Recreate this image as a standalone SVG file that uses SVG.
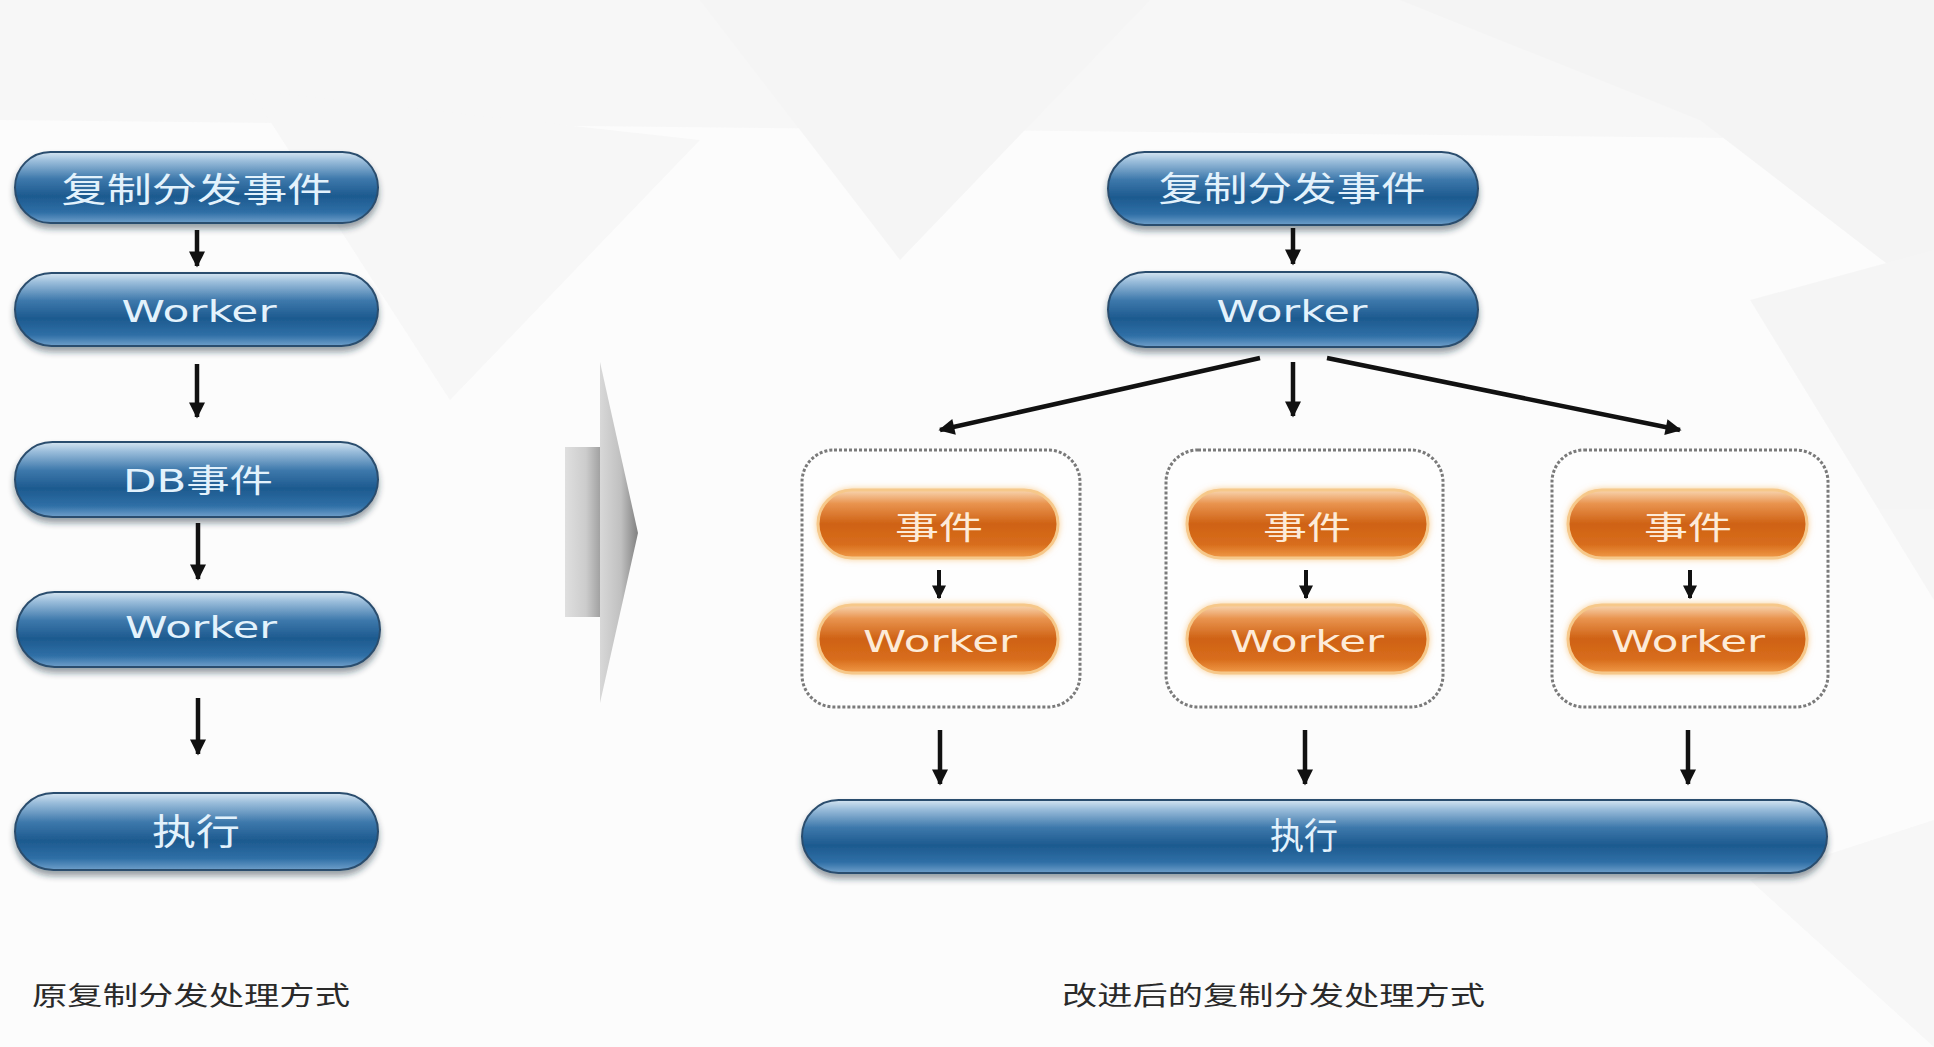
<svg xmlns="http://www.w3.org/2000/svg" width="1934" height="1047" viewBox="0 0 1934 1047">
<style>
.bt{font-family:"DejaVu Sans","Noto Sans CJK SC",sans-serif;fill:#e3f2fc;}
.ot{font-family:"DejaVu Sans","Noto Sans CJK SC",sans-serif;fill:#fdebd8;}
.cap{font-family:"Noto Sans CJK SC",sans-serif;fill:#2a2a2a;font-size:26px;}
.blue{fill:url(#gBlue);stroke:#2c4e6e;stroke-width:2;filter:url(#sh);}
.orng{fill:url(#gOr);stroke:#f6c88a;stroke-width:3;filter:url(#shO);}
.box{fill:#ffffff;fill-opacity:0.55;stroke:#7a7a7a;stroke-width:3;stroke-dasharray:3 2;}
.ar{stroke:#111;stroke-width:4.5;fill:none;marker-end:url(#ah);}
.ars{stroke:#111;stroke-width:4;fill:none;marker-end:url(#ahs);}
</style>
<defs>
<linearGradient id="gBlue" x1="0" y1="0" x2="0" y2="1">
<stop offset="0" stop-color="#d6e6f2"/>
<stop offset="0.12" stop-color="#9dbfdc"/>
<stop offset="0.38" stop-color="#3d78ab"/>
<stop offset="0.62" stop-color="#1d5a8f"/>
<stop offset="0.85" stop-color="#2f6fa6"/>
<stop offset="1" stop-color="#6f9fca"/>
</linearGradient>
<linearGradient id="gOr" x1="0" y1="0" x2="0" y2="1">
<stop offset="0" stop-color="#f8d6b2"/>
<stop offset="0.2" stop-color="#e9944f"/>
<stop offset="0.5" stop-color="#cf6215"/>
<stop offset="0.8" stop-color="#d86d1c"/>
<stop offset="1" stop-color="#f09a48"/>
</linearGradient>
<linearGradient id="gGray" x1="0" y1="0" x2="1" y2="0">
<stop offset="0" stop-color="#d8d8d8"/>
<stop offset="0.55" stop-color="#c0c0c0"/>
<stop offset="1" stop-color="#808080"/>
</linearGradient>
<filter id="sh" x="-10%" y="-20%" width="120%" height="160%">
<feDropShadow dx="0" dy="5" stdDeviation="3" flood-color="#1a2a3a" flood-opacity="0.45"/>
</filter>
<filter id="shO" x="-10%" y="-30%" width="120%" height="160%">
<feDropShadow dx="0" dy="0" stdDeviation="3" flood-color="#f7c27a" flood-opacity="0.8"/>
</filter>
<marker id="ah" viewBox="0 0 10 10" refX="9" refY="5" markerWidth="17" markerHeight="16" markerUnits="userSpaceOnUse" orient="auto">
<path d="M0,0 L10,5 L0,10 z" fill="#111"/>
</marker>
<marker id="ahs" viewBox="0 0 10 10" refX="9" refY="5" markerWidth="14" markerHeight="14" markerUnits="userSpaceOnUse" orient="auto">
<path d="M0,0 L10,5 L0,10 z" fill="#111"/>
</marker>
</defs>

<rect width="1934" height="1047" fill="#fcfcfc"/>
<g id="background" opacity="0.3">
<polygon points="0,0 1934,0 1934,140 0,120" fill="#ececec"/>
<polygon points="700,0 1150,0 900,260" fill="#e6e6e6"/>
<polygon points="1400,0 1934,0 1934,300 1700,120" fill="#e4e4e4"/>
<polygon points="1750,300 1934,250 1934,600" fill="#e8e8e8"/>
<polygon points="250,90 700,140 450,400" fill="#ececec"/>
<polygon points="1750,880 1934,820 1934,1047" fill="#ececec"/>
</g>

<g id="transition-arrow">
<rect x="565" y="447" width="38" height="170" fill="url(#gGray)" opacity="0.8"/>
<polygon points="600,362 638,533 600,703" fill="url(#gGray)"/>
</g>

<g id="left-event">
<rect class="blue" x="15" y="152" width="363" height="71" rx="35.5"/>
<text class="bt" x="197" y="190" font-size="34" text-anchor="middle" dominant-baseline="central" textLength="271" lengthAdjust="spacingAndGlyphs">复制分发事件</text>
</g>
<g id="left-worker1">
<rect class="blue" x="15" y="273" width="363" height="73" rx="36.5"/>
<text class="bt" x="199" y="322" font-size="31" text-anchor="middle" textLength="155" lengthAdjust="spacingAndGlyphs">Worker</text>
</g>
<g id="left-db-event">
<rect class="blue" x="15" y="442" width="363" height="75" rx="37.5"/>
<text class="bt" x="198" y="492" font-size="32" text-anchor="middle" textLength="150" lengthAdjust="spacingAndGlyphs">DB事件</text>
</g>
<g id="left-worker2">
<rect class="blue" x="17" y="592" width="363" height="75" rx="37.5"/>
<text class="bt" x="201" y="638" font-size="31" text-anchor="middle" textLength="152" lengthAdjust="spacingAndGlyphs">Worker</text>
</g>
<g id="left-exec">
<rect class="blue" x="15" y="793" width="363" height="77" rx="38.5"/>
<text class="bt" x="196" y="832" font-size="36" text-anchor="middle" dominant-baseline="central" textLength="88" lengthAdjust="spacingAndGlyphs">执行</text>
</g>

<g id="right-event">
<rect class="blue" x="1108" y="152" width="370" height="73" rx="36.5"/>
<text class="bt" x="1292" y="189" font-size="34" text-anchor="middle" dominant-baseline="central" textLength="267" lengthAdjust="spacingAndGlyphs">复制分发事件</text>
</g>
<g id="right-worker">
<rect class="blue" x="1108" y="272" width="370" height="75" rx="37.5"/>
<text class="bt" x="1292" y="322" font-size="31" text-anchor="middle" textLength="151" lengthAdjust="spacingAndGlyphs">Worker</text>
</g>

<g id="group1">
<rect class="box" x="802" y="450" width="278" height="257" rx="32"/>
<rect class="orng" x="818" y="490" width="240" height="68" rx="34"/>
<text class="ot" x="939" y="528" font-size="32" text-anchor="middle" dominant-baseline="central" textLength="88" lengthAdjust="spacingAndGlyphs">事件</text>
<rect class="orng" x="818" y="605" width="240" height="68" rx="34"/>
<text class="ot" x="940" y="652" font-size="31" text-anchor="middle" textLength="154" lengthAdjust="spacingAndGlyphs">Worker</text>
</g>
<g id="group2">
<rect class="box" x="1166" y="450" width="277" height="257" rx="32"/>
<rect class="orng" x="1187" y="490" width="241" height="68" rx="34"/>
<text class="ot" x="1307" y="528" font-size="32" text-anchor="middle" dominant-baseline="central" textLength="88" lengthAdjust="spacingAndGlyphs">事件</text>
<rect class="orng" x="1187" y="605" width="241" height="68" rx="34"/>
<text class="ot" x="1307" y="652" font-size="31" text-anchor="middle" textLength="154" lengthAdjust="spacingAndGlyphs">Worker</text>
</g>
<g id="group3">
<rect class="box" x="1552" y="450" width="276" height="257" rx="32"/>
<rect class="orng" x="1568" y="490" width="239" height="68" rx="34"/>
<text class="ot" x="1688" y="528" font-size="32" text-anchor="middle" dominant-baseline="central" textLength="88" lengthAdjust="spacingAndGlyphs">事件</text>
<rect class="orng" x="1568" y="605" width="239" height="68" rx="34"/>
<text class="ot" x="1688" y="652" font-size="31" text-anchor="middle" textLength="154" lengthAdjust="spacingAndGlyphs">Worker</text>
</g>

<g id="right-exec">
<rect class="blue" x="802" y="800" width="1025" height="73" rx="36.5"/>
<text class="bt" x="1304" y="836" font-size="36" text-anchor="middle" dominant-baseline="central" textLength="68" lengthAdjust="spacingAndGlyphs">执行</text>
</g>

<g id="connectors">
<line class="ar" x1="197" y1="230" x2="197" y2="266"/>
<line class="ar" x1="197" y1="364" x2="197" y2="417"/>
<line class="ar" x1="198" y1="523" x2="198" y2="579"/>
<line class="ar" x1="198" y1="698" x2="198" y2="754"/>
<line class="ar" x1="1293" y1="228" x2="1293" y2="264"/>
<line class="ar" x1="1293" y1="362" x2="1293" y2="416"/>
<line class="ar" x1="1260" y1="358" x2="940" y2="430"/>
<line class="ar" x1="1327" y1="358" x2="1680" y2="430"/>
<line class="ars" x1="939" y1="570" x2="939" y2="598"/>
<line class="ars" x1="1306" y1="570" x2="1306" y2="598"/>
<line class="ars" x1="1690" y1="570" x2="1690" y2="598"/>
<line class="ar" x1="940" y1="730" x2="940" y2="784"/>
<line class="ar" x1="1305" y1="730" x2="1305" y2="784"/>
<line class="ar" x1="1688" y1="730" x2="1688" y2="784"/>
</g>

<g id="captions">
<text class="cap" x="32" y="993" dominant-baseline="central" textLength="318" lengthAdjust="spacingAndGlyphs">原复制分发处理方式</text>
<text class="cap" x="1062" y="993" dominant-baseline="central" textLength="423" lengthAdjust="spacingAndGlyphs">改进后的复制分发处理方式</text>
</g>
</svg>
